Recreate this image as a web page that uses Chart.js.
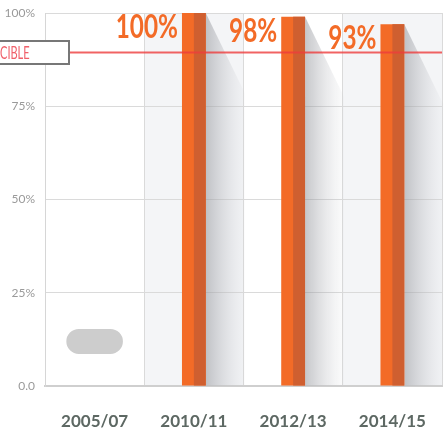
<!DOCTYPE html>
<html>
<head>
<meta charset="utf-8">
<script src="https://cdn.jsdelivr.net/npm/chart.js@4"></script>
<style>
  html, body { margin: 0; padding: 0; background: #fff; }
  #wrap { width: 448px; height: 432px; }
</style>
</head>
<body>
<div id="wrap"><canvas id="coverageChart"></canvas></div>
<script>
const categories = ['2005/07', '2010/11', '2012/13', '2014/15'];
const coverage = [null, 100, 99, 97];
const coverageLabels = ['', '100%', '98%', '93%'];
const noDataRange = [[8.6, 15.3], null, null, null];
const targetValue = 89.5;
const targetLabel = 'CIBLE';

const ORANGE = '#f36b27';
const ORANGE_DARK = '#cf5f30';

Chart.defaults.font.family = 'Lato';

// light grey band behind every other category
const columnBands = {
  id: 'columnBands',
  beforeDraw(chart) {
    const { ctx, chartArea, scales } = chart;
    const step = (chartArea.right - chartArea.left) / categories.length;
    ctx.save();
    ctx.fillStyle = '#f4f5f7';
    categories.forEach((c, i) => {
      if (i % 2 === 1) {
        const left = scales.x.getPixelForValue(i) - step / 2;
        ctx.fillRect(left, chartArea.top, step, chartArea.bottom - chartArea.top);
      }
    });
    ctx.restore();
  }
};

// long flat shadow to the right of each bar
const barShadows = {
  id: 'barShadows',
  beforeDatasetsDraw(chart) {
    const { ctx } = chart;
    const meta = chart.getDatasetMeta(0);
    ctx.save();
    meta.data.forEach((bar, i) => {
      if (coverage[i] == null) return;
      const right = bar.x + bar.width / 2;
      const top = bar.y;
      const bottom = bar.base;
      const g = ctx.createLinearGradient(right, 0, right + 40, 0);
      g.addColorStop(0, 'rgba(140,142,148,0.5)');
      g.addColorStop(1, 'rgba(200,202,208,0.05)');
      ctx.fillStyle = g;
      ctx.beginPath();
      ctx.moveTo(right, top);
      ctx.lineTo(right + 39, top + 80);
      ctx.lineTo(right + 39, bottom);
      ctx.lineTo(right, bottom);
      ctx.closePath();
      ctx.fill();
    });
    ctx.restore();
  }
};

const barDecor = {
  id: 'barDecor',
  afterDatasetsDraw(chart) {
    const { ctx, chartArea, scales } = chart;
    const meta = chart.getDatasetMeta(0);
    ctx.save();
    meta.data.forEach((bar, i) => {
      if (coverage[i] == null) return;
      const left = bar.x - bar.width / 2;
      // darker right half
      ctx.fillStyle = ORANGE_DARK;
      ctx.fillRect(bar.x, bar.y, bar.width / 2, bar.base - bar.y);
      // value label left of the bar
      ctx.save();
      ctx.translate(left - 4, bar.y + 25);
      ctx.scale(0.76, 1);
      ctx.font = 'bold 32px Lato';
      ctx.fillStyle = ORANGE;
      ctx.textAlign = 'right';
      ctx.textBaseline = 'alphabetic';
      ctx.fillText(coverageLabels[i], 0, 0);
      ctx.restore();
    });

    // target line and its tag
    const ty = Math.round(scales.y.getPixelForValue(targetValue)) + 0.5;
    ctx.strokeStyle = 'rgba(238,60,60,0.8)';
    ctx.lineWidth = 2;
    ctx.beginPath();
    ctx.moveTo(69, ty);
    ctx.lineTo(chartArea.right, ty);
    ctx.stroke();

    ctx.fillStyle = '#fff';
    ctx.fillRect(-5, ty - 11.5, 74, 23);
    ctx.strokeStyle = '#777';
    ctx.lineWidth = 2;
    ctx.strokeRect(-5, ty - 11.5, 74, 23);
    ctx.save();
    ctx.translate(0, ty + 1);
    ctx.scale(0.65, 1);
    ctx.fillStyle = '#f0606a';
    ctx.font = '17px Lato';
    ctx.textAlign = 'left';
    ctx.textBaseline = 'middle';
    ctx.fillText(targetLabel, 0, 0);
    ctx.restore();
    ctx.restore();
  }
};

new Chart(document.getElementById('coverageChart'), {
  type: 'bar',
  data: {
    labels: categories,
    datasets: [
      {
        label: 'Couverture',
        data: coverage,
        backgroundColor: ORANGE,
        barPercentage: 0.24,
        categoryPercentage: 1,
        grouped: false
      },
      {
        label: 'Pas de données',
        data: noDataRange,
        backgroundColor: '#cdcdcd',
        borderRadius: 13,
        borderSkipped: false,
        barPercentage: 0.57,
        categoryPercentage: 1,
        grouped: false
      }
    ]
  },
  options: {
    responsive: true,
    maintainAspectRatio: false,
    animation: false,
    layout: { padding: { top: 13, right: 6, left: 0, bottom: 0 } },
    plugins: {
      legend: { display: false },
      tooltip: { enabled: false }
    },
    scales: {
      x: {
        grid: { color: '#dadada', drawTicks: false, offset: true },
        border: { color: '#cfcfcf', width: 2 },
        ticks: {
          color: '#5d6863',
          padding: 25,
          font: { size: 17, weight: 'bold' }
        },
        afterFit(scale) {
          scale.height = 46;
          scale.paddingLeft = 0;
          scale.paddingRight = 0;
        }
      },
      y: {
        min: 0,
        max: 100,
        grid: { color: '#dadada', drawTicks: false },
        border: { color: '#d6d6d6' },
        ticks: {
          stepSize: 25,
          color: '#9a9a9a',
          padding: 10,
          font: { size: 12 },
          callback: v => v === 0 ? '0.0' : v + '%'
        },
        afterFit(scale) {
          scale.width = 45;
          scale.paddingTop = 0;
          scale.paddingBottom = 0;
        }
      }
    }
  },
  plugins: [columnBands, barShadows, barDecor]
});
</script>
</body>
</html>
